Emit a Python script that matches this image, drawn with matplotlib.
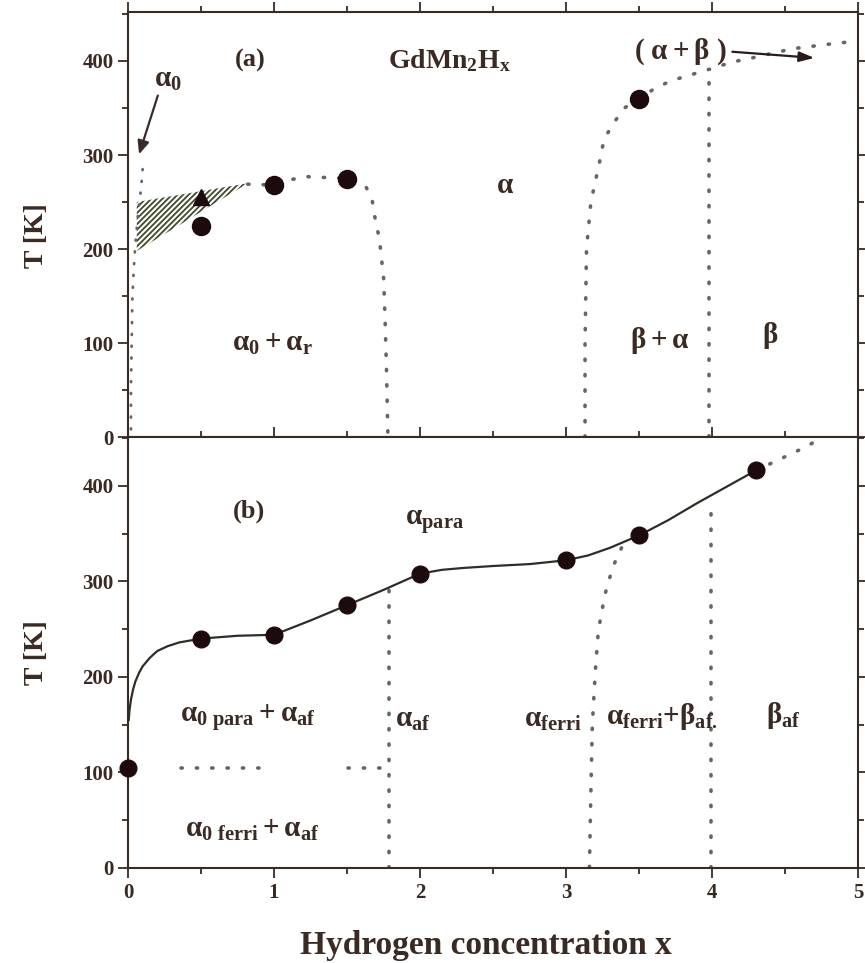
import matplotlib

matplotlib.use("Agg")
import matplotlib.pyplot as plt
from matplotlib.patches import Polygon
from matplotlib.ticker import MultipleLocator

plt.rcParams["font.family"] = ["Liberation Serif", "DejaVu Serif"]
plt.rcParams["font.weight"] = "bold"
plt.rcParams["mathtext.fontset"] = "custom"
plt.rcParams["mathtext.rm"] = "Liberation Serif:bold"
plt.rcParams["mathtext.it"] = "Liberation Serif:bold"
plt.rcParams["mathtext.bf"] = "Liberation Serif:bold"
plt.rcParams["mathtext.default"] = "regular"
plt.rcParams["hatch.linewidth"] = 1.3

INK = "#3a2a22"
DOT = "#666666"
MARK = "#1c0a0c"

# ---- panel (a) data ----
a_circ_x = [0.5, 1.0, 1.5, 3.5]
a_circ_T = [225, 268, 275, 360]
a_tri_x = [0.5]
a_tri_T = [255]
# hatched region (alpha0 + alpha_r coexistence)
hatch_x = [0.06, 0.82, 0.06]
hatch_T = [250, 270, 198]
# left alpha0 boundary
a_left_x = [0.10, 0.09, 0.07, 0.05, 0.04, 0.03, 0.025, 0.02, 0.02]
a_left_T = [285, 265, 240, 205, 180, 150, 100, 50, 0]
# dome boundary
a_dome_x = [0.82, 1.0, 1.12, 1.22, 1.5, 1.62, 1.67, 1.70, 1.72, 1.75, 1.76, 1.77, 1.78]
a_dome_T = [269, 268, 274, 277, 275, 269, 254, 225, 213, 170, 128, 73, 0]
# beta + alpha boundary
a_ba_x = [3.13, 3.13, 3.14, 3.17, 3.23, 3.25, 3.28, 3.33, 3.40, 3.5, 3.61, 3.72,
          4.0, 4.14, 4.24, 4.55, 4.86, 5.0]
a_ba_T = [0, 100, 200, 250, 293, 309, 322, 335, 350, 360, 371, 379,
          392, 399, 402, 413, 419, 421]
a_beta_x = [3.98, 3.98]
a_beta_T = [0, 388]

# ---- panel (b) data ----
b_circ_x = [0.0, 0.5, 1.0, 1.5, 2.0, 3.0, 3.5, 4.3]
b_circ_T = [105, 240, 244, 275, 308, 322, 348, 416]
b_line_x = [0.005, 0.01, 0.02, 0.035, 0.05, 0.075, 0.1, 0.15, 0.2, 0.27, 0.35, 0.5,
            0.75, 1.0, 1.1, 1.25, 1.5, 1.75, 2.0, 2.15, 2.3, 2.5, 2.75, 3.0,
            3.15, 3.3, 3.5, 3.7, 3.9, 4.1, 4.3]
b_line_T = [155, 165, 176, 187, 195, 204, 211, 220, 227, 232, 236, 240,
            243, 244, 250, 259, 275, 291, 308, 312, 314, 316, 318, 322,
            327, 335, 348, 364, 382, 399, 416]
b_ext_x = [4.3, 4.44, 4.55, 4.66, 4.72]
b_ext_T = [416, 426, 434, 442, 448]
b_ferri_x = [3.38, 3.32, 3.27, 3.24, 3.22, 3.20, 3.18, 3.17, 3.16]
b_ferri_T = [335, 315, 288, 265, 246, 205, 150, 80, 0]
b_af_x = [1.79, 1.79]
b_af_T = [0, 291]
b_beta_x = [3.99, 3.99]
b_beta_T = [0, 378]
b_h1_x = [0.36, 0.92]
b_h2_x = [1.51, 1.78]
b_h_T = [105, 105]


def dotted(ax, x, y, lw=2.6):
    ax.plot(x, y, color=DOT, lw=lw, ls=(0, (0.35, 3.9)), dash_capstyle="round", zorder=2)


def style(ax):
    ax.set_xlim(0, 5)
    ax.xaxis.set_major_locator(MultipleLocator(1))
    ax.xaxis.set_minor_locator(MultipleLocator(0.5))
    ax.yaxis.set_major_locator(MultipleLocator(100))
    ax.yaxis.set_minor_locator(MultipleLocator(50))
    for s in ax.spines.values():
        s.set_color(INK)
        s.set_linewidth(1.5)
    ax.tick_params(which="both", colors=INK, width=1.3, labelsize=15, top=True, right=True)
    ax.tick_params(axis="y", which="both", direction="out", left=True)
    ax.tick_params(which="major", length=7)
    ax.tick_params(which="minor", length=4)
    for lab in ax.get_xticklabels() + ax.get_yticklabels():
        lab.set_fontweight("bold")
    ax.set_ylabel("T [K]", fontsize=20, color=INK, fontweight="bold")


fig = plt.figure(figsize=(8.65, 9.63), dpi=100)
ax1 = fig.add_axes([0.148, 0.546, 0.844, 0.4415])
ax2 = fig.add_axes([0.148, 0.0987, 0.844, 0.4475], sharex=ax1)

# ---- panel (a) ----
style(ax1)
ax1.set_ylim(0, 452)
ax1.tick_params(axis="x", labelbottom=False)
ax1.yaxis.set_label_coords(-0.108, 0.475)

ax1.add_patch(Polygon(list(zip(hatch_x, hatch_T)), closed=True, facecolor="none",
                      edgecolor="#3e4a2a", lw=0, hatch="//////", zorder=1))
dotted(ax1, a_left_x, a_left_T, lw=2.0)
dotted(ax1, a_dome_x, a_dome_T)
dotted(ax1, a_ba_x, a_ba_T)
dotted(ax1, a_beta_x, a_beta_T)
ax1.plot(a_circ_x, a_circ_T, "o", ms=13, color=MARK, zorder=4)
ax1.plot(a_tri_x, a_tri_T, "^", ms=11, color=MARK, zorder=4)

ax1.annotate("", xy=(0.07, 298), xytext=(0.21, 366),
             arrowprops=dict(arrowstyle="-|>,head_length=0.8,head_width=0.35",
                             color="#3a2a2a", lw=1.6))
ax1.annotate("", xy=(4.72, 403), xytext=(4.12, 410),
             arrowprops=dict(arrowstyle="-|>,head_length=0.9,head_width=0.3",
                             color="#2a1a1a", lw=1.6))

FS = 21
ax1.text(0.27, 380, r"$\alpha_0$", fontsize=FS, color=INK, ha="center", va="center")
ax1.text(0.84, 401, "(a)", fontsize=19, color=INK, ha="center", va="center")
ax1.text(2.2, 400, r"GdMn$_2$H$_x$", fontsize=20, color=INK, ha="center", va="center")
ax1.text(3.78, 410, r"( $\alpha + \beta$ )", fontsize=FS, color=INK, ha="center", va="center")
ax1.text(2.58, 268, r"$\alpha$", fontsize=FS, color=INK, ha="center", va="center")
ax1.text(0.99, 100, r"$\alpha_0 + \alpha_r$", fontsize=FS, color=INK, ha="center", va="center")
ax1.text(3.64, 103, r"$\beta + \alpha$", fontsize=FS, color=INK, ha="center", va="center")
ax1.text(4.4, 108, r"$\beta$", fontsize=FS, color=INK, ha="center", va="center")

# ---- panel (b) ----
style(ax2)
ax2.set_ylim(0, 451)
ax2.tick_params(axis="x", which="both", direction="out", bottom=True, top=True)
ax2.yaxis.set_label_coords(-0.108, 0.5)
ax2.set_xlabel("Hydrogen concentration x", fontsize=24, color=INK, fontweight="bold")
ax2.xaxis.set_label_coords(0.49, -0.145)

ax2.plot(b_line_x, b_line_T, "-", color="#2e2e26", lw=1.6, zorder=3)
dotted(ax2, b_ext_x, b_ext_T)
dotted(ax2, b_ferri_x, b_ferri_T)
dotted(ax2, b_af_x, b_af_T)
dotted(ax2, b_beta_x, b_beta_T)
dotted(ax2, b_h1_x, b_h_T)
dotted(ax2, b_h2_x, b_h_T)
ax2.plot(b_circ_x, b_circ_T, "o", ms=12, color=MARK, zorder=4, clip_on=False)

ax2.text(0.83, 373, "(b)", fontsize=19, color=INK, ha="center", va="center")
ax2.text(2.1, 362, r"$\alpha_{para}$", fontsize=FS, color=INK, ha="center", va="center")
ax2.text(0.82, 157, r"$\alpha_{0\ para} + \alpha_{af}$", fontsize=FS, color=INK,
         ha="center", va="center")
ax2.text(0.85, 40, r"$\alpha_{0\ ferri} + \alpha_{af}$", fontsize=FS, color=INK,
         ha="center", va="center")
ax2.text(1.95, 155, r"$\alpha_{af}$", fontsize=FS, color=INK, ha="center", va="center")
ax2.text(2.91, 155, r"$\alpha_{ferri}$", fontsize=FS, color=INK, ha="center", va="center")
ax2.text(3.66, 158, r"$\alpha_{ferri}$+$\beta_{af.}$", fontsize=FS, color=INK,
         ha="center", va="center")
ax2.text(4.49, 160, r"$\beta_{af}$", fontsize=FS, color=INK, ha="center", va="center")

fig.savefig("out.png", dpi=100)
